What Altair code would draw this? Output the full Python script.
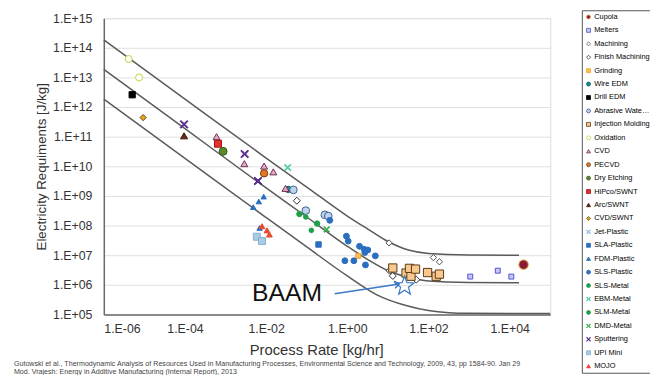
import math
import altair as alt
import pandas as pd

FONT = "Liberation Sans"

series_names = ["Cupola", "Melters", "Machining", "Finish Machining", "Grinding", "Wire EDM",
                "Drill EDM", "Abrasive Waterjet", "Injection Molding", "Oxidation", "CVD", "PECVD",
                "Dry Etching", "HiPco/SWNT", "Arc/SWNT", "CVD/SWNT", "Jet-Plastic", "SLA-Plastic",
                "FDM-Plastic", "SLS-Plastic", "SLS-Metal", "EBM-Metal", "SLM-Metal", "DMD-Metal",
                "Sputtering", "UPI Mini", "MOJO"]

# process rate [kg/hr] and electricity [J/kg]
cupola_x = [2.2e4]; cupola_y = [4.8e6]
melters_x = [1.07e3, 5.1e3, 1.1e4]; melters_y = [1.9e6, 3.0e6, 1.9e6]
machining_x = [10.7, 132, 186]; machining_y = [2.6e7, 8.3e6, 6.0e6]
finish_x = [0.057, 11, 13.2, 50]; finish_y = [6.9e8, 3.0e6, 2.0e6, 1.5e6]
grinding_x = [1.86]; grinding_y = [9.5e6]
wire_edm_x = [0.035]; wire_edm_y = [1.66e9]
drill_edm_x = [5.0e-6]; drill_edm_y = [2.6e12]
waterjet_x = [0.047, 0.095, 0.28, 0.34]; waterjet_y = [1.6e9, 3.2e8, 2.3e8, 2.1e8]
injection_x = [13.2, 28, 37, 34, 48, 95, 155, 186]
injection_y = [3.7e6, 2.5e6, 1.95e6, 3.6e6, 3.4e6, 2.6e6, 1.95e6, 2.3e6]
oxidation_x = [4.1e-6, 7.4e-6]; oxidation_y = [4.2e13, 1.0e13]
cvd_x = [6.0e-4, 2.9e-3, 8.9e-3, 0.015, 0.030]; cvd_y = [1.0e11, 1.23e10, 1.02e10, 6.5e9, 1.8e9]
pecvd_x = [8.9e-3]; pecvd_y = [5.8e9]
dry_etch_x = [8.7e-4]; dry_etch_y = [3.2e10]
hipco_x = [6.5e-4]; hipco_y = [5.8e10]
arc_x = [9.5e-5]; arc_y = [1.07e11]
cvd_swnt_x = [9.3e-6]; cvd_swnt_y = [4.4e11]
jet_x = []; jet_y = []
sla_x = [0.195]; sla_y = [2.3e7]
fdm_x = [8.7e-3, 6.6e-3, 4.8e-3, 6.9e-3]; fdm_y = [9.5e8, 6.5e8, 4.2e8, 8.3e7]
sls_p_x = [0.37, 0.95, 1.05, 2.0, 3.2, 2.7, 4.9, 1.45, 0.87, 2.8, 2.6]
sls_p_y = [1.5e8, 4.4e7, 3.0e7, 2.0e7, 1.5e7, 1.23e7, 9.5e6, 6.5e6, 6.5e6, 4.7e6, 1.6e7]
sls_m_x = [0.066, 0.18]; sls_m_y = [2.45e8, 1.17e8]
ebm_x = [0.034]; ebm_y = [9.1e9]
slm_x = [0.095, 0.13]; slm_y = [1.95e8, 6.9e7]
dmd_x = [0.31]; dmd_y = [7.4e7]
sputter_x = [9.5e-5, 2.95e-3, 6.3e-3]; sputter_y = [2.6e11, 2.6e10, 3.2e9]
upi_x = [5.9e-3, 7.9e-3]; upi_y = [4.2e7, 3.0e7]
mojo_x = [7.9e-3, 0.0105, 0.012]; mojo_y = [9.5e7, 6.9e7, 5.0e7]

# boundary curves
upper_x = [1e-6, 1e-4, 1e-2, 0.1, 1, 3.2, 10, 32, 100, 1000, 1.7e4]
upper_y = [1.86e14, 1.86e12, 1.9e10, 2.0e9, 2.1e8, 7.6e7, 2.9e7, 1.5e7, 1.15e7, 1.02e7, 1.0e7]
middle_x = [1e-6, 1e-4, 1e-2, 0.1, 1, 3.2, 10, 32, 100, 1000, 1.7e4]
middle_y = [1.86e13, 1.86e11, 1.86e9, 1.95e8, 2.0e7, 7.1e6, 3.0e6, 1.8e6, 1.35e6, 1.2e6, 1.17e6]
lower_x = [1e-6, 1e-4, 1e-2, 0.1, 1, 5.2, 28, 100, 316, 1000, 1e5]
lower_y = [1.86e12, 1.86e10, 1.86e8, 1.9e7, 2.0e6, 4.7e5, 2.0e5, 1.35e5, 1.15e5, 1.1e5, 1.07e5]

baam_x = [25.7]; baam_y = [9.1e5]
baam_label = ["BAAM"]; baam_label_x = [4.5e-3]; baam_label_y = [2.95e5]
arrow_x = [0.49]; arrow_y = [5.0e5]; arrow_x2 = [19]; arrow_y2 = [1.07e6]

x_ticks = [1e-6, 1e-4, 1e-2, 1, 1e2, 1e4]
y_ticks = [1e5, 1e6, 1e7, 1e8, 1e9, 1e10, 1e11, 1e12, 1e13, 1e14, 1e15]

footer = ["Gutowski et al., Thermodynamic Analysis of Resources Used in Manufacturing Processes, Environmental Science and Technology, 2009, 43, pp 1584-90. Jan 29",
          "Mod. Vrajesh: Energy in Additive Manufacturing (Internal Report), 2013"]

XPATH = "M-0.85,-1L0,-0.25L0.85,-1L1,-0.8L0.25,0L1,0.8L0.85,1L0,0.25L-0.85,1L-1,0.8L-0.25,0L-1,-0.8Z"
star_pts = []
for i in range(10):
    r = 1.0 if i % 2 == 0 else 0.42
    a = -math.pi / 2 + i * math.pi / 5
    star_pts.append(f"{r*math.cos(a):.3f},{r*math.sin(a):.3f}")
STAR = "M" + "L".join(star_pts) + "Z"

style = {
    "Cupola": ("circle", "#8b1a3a", "#e0a030", 90),
    "Melters": ("square", "#c8c8f4", "#5050d0", 25),
    "Machining": ("diamond", "#ffffff", "#505050", 40),
    "Finish Machining": ("diamond", "#ffffff", "#303030", 50),
    "Grinding": ("square", "#f8c060", "#f0a020", 25),
    "Wire EDM": ("circle", "#138d90", "#0a5a5a", 40),
    "Drill EDM": ("square", "#000000", "#000000", 40),
    "Abrasive Waterjet": ("circle", "#bcd4ee", "#3f5f8f", 60),
    "Injection Molding": ("square", "#f8c890", "#5a3a10", 70),
    "Oxidation": ("circle", "#ffffff", "#b8d840", 50),
    "CVD": ("triangle-up", "#e8a8c8", "#6a3050", 50),
    "PECVD": ("circle", "#e07828", "#7a3a08", 55),
    "Dry Etching": ("circle", "#5a8a2a", "#3a5a1a", 65),
    "HiPco/SWNT": ("square", "#e83030", "#a01010", 50),
    "Arc/SWNT": ("triangle-up", "#6a2818", "#3a1008", 50),
    "CVD/SWNT": ("diamond", "#e8a020", "#6a5010", 40),
    "Jet-Plastic": (XPATH, "#90b8e0", "#90b8e0", 30),
    "SLA-Plastic": ("square", "#2a6ebf", "#2a6ebf", 30),
    "FDM-Plastic": ("triangle-up", "#2a6ebf", "#2a6ebf", 30),
    "SLS-Plastic": ("circle", "#2a6ebf", "#2a6ebf", 35),
    "SLS-Metal": ("circle", "#1ea048", "#1ea048", 30),
    "EBM-Metal": (XPATH, "#50d098", "#50d098", 45),
    "SLM-Metal": ("circle", "#1ea048", "#1ea048", 22),
    "DMD-Metal": (XPATH, "#30b040", "#30b040", 35),
    "Sputtering": (XPATH, "#6a38a8", "#4a2080", 60),
    "UPI Mini": ("square", "#a8cce4", "#88b0d0", 50),
    "MOJO": ("triangle-up", "#e84a30", "#e84a30", 35),
}

series_data = [
    ("Cupola", cupola_x, cupola_y), ("Melters", melters_x, melters_y),
    ("Machining", machining_x, machining_y), ("Finish Machining", finish_x, finish_y),
    ("Grinding", grinding_x, grinding_y), ("Wire EDM", wire_edm_x, wire_edm_y),
    ("Drill EDM", drill_edm_x, drill_edm_y), ("Abrasive Waterjet", waterjet_x, waterjet_y),
    ("Injection Molding", injection_x, injection_y), ("Oxidation", oxidation_x, oxidation_y),
    ("CVD", cvd_x, cvd_y), ("PECVD", pecvd_x, pecvd_y), ("Dry Etching", dry_etch_x, dry_etch_y),
    ("HiPco/SWNT", hipco_x, hipco_y), ("Arc/SWNT", arc_x, arc_y), ("CVD/SWNT", cvd_swnt_x, cvd_swnt_y),
    ("Jet-Plastic", jet_x, jet_y), ("SLA-Plastic", sla_x, sla_y), ("FDM-Plastic", fdm_x, fdm_y),
    ("SLS-Plastic", sls_p_x, sls_p_y), ("SLS-Metal", sls_m_x, sls_m_y), ("EBM-Metal", ebm_x, ebm_y),
    ("SLM-Metal", slm_x, slm_y), ("DMD-Metal", dmd_x, dmd_y), ("Sputtering", sputter_x, sputter_y),
    ("UPI Mini", upi_x, upi_y), ("MOJO", mojo_x, mojo_y),
]

rows = []
for name, xs, ys in series_data:
    for xv, yv in zip(xs, ys):
        rows.append({"series": name, "rate": xv, "energy": yv, "sz": style[name][3]})
pts = pd.DataFrame(rows)

curve_rows = []
for cname, xs, ys in [("upper", upper_x, upper_y), ("middle", middle_x, middle_y), ("lower", lower_x, lower_y)]:
    for i, (xv, yv) in enumerate(zip(xs, ys)):
        curve_rows.append({"curve": cname, "order": i, "rate": xv, "energy": yv})
curves = pd.DataFrame(curve_rows)

label_expr = ("'1.E' + (round(log(datum.value)/LN10) < 0 ? '-' : '+') + "
              "(abs(round(log(datum.value)/LN10)) < 10 ? '0' : '') + abs(round(log(datum.value)/LN10))")

xs_scale = alt.Scale(type="log", domain=[1e-6, 1e5], nice=False)
ys_scale = alt.Scale(type="log", domain=[1e5, 1e15], nice=False)

x_enc = alt.X("rate:Q", scale=xs_scale, title="Process Rate [kg/hr]",
              axis=alt.Axis(values=x_ticks, labelExpr=label_expr, grid=False, ticks=False,
                            domainColor="#6a6a6a", domainWidth=1.5, labelFontSize=12.5,
                            labelColor="#333333", labelPadding=8, titleFontSize=15,
                            titleFontWeight="normal", titleColor="#333333", titlePadding=8,
                            titleX=215, labelFont=FONT, titleFont=FONT))
y_enc = alt.Y("energy:Q", scale=ys_scale, title="Electricity Requiments [J/kg]",
              axis=alt.Axis(values=y_ticks, labelExpr=label_expr, grid=True, gridColor="#e0e0e0",
                            ticks=False, domainColor="#6a6a6a", domainWidth=1.5, labelFontSize=12.5,
                            labelColor="#333333", labelPadding=12, titleFontSize=13.5,
                            titleFontWeight="normal", titleColor="#333333", titlePadding=4,
                            labelFont=FONT, titleFont=FONT))

lines = alt.Chart(curves).mark_line(color="#5a5a5a", strokeWidth=1.5, interpolate="monotone").encode(
    x=x_enc, y=y_enc, detail="curve:N", order="order:Q")

shapes = [style[n][0] for n in series_names]
fills = [style[n][1] for n in series_names]
strokes = [style[n][2] for n in series_names]

leg = alt.Legend(title=None, symbolSize=16, symbolStrokeWidth=0.8, labelFontSize=7.5,
                 labelLimit=58, rowPadding=4.6, labelOffset=2, symbolOffset=0,
                 orient="none", legendX=484, legendY=-8, strokeColor="#555555",
                 fillColor="white", padding=3)

points = alt.Chart(pts).mark_point(opacity=1, strokeWidth=1, filled=True).encode(
    x=x_enc, y=y_enc,
    fill=alt.Fill("series:N", scale=alt.Scale(domain=series_names, range=fills), legend=leg),
    stroke=alt.Stroke("series:N", scale=alt.Scale(domain=series_names, range=strokes), legend=leg),
    shape=alt.Shape("series:N", scale=alt.Scale(domain=series_names, range=shapes), legend=leg),
    size=alt.Size("sz:Q", scale=None),
)

star = alt.Chart(pd.DataFrame({"rate": baam_x, "energy": baam_y})).mark_point(
    shape=STAR, size=400, filled=False, stroke="#3a78c8", strokeWidth=1.2, opacity=1).encode(x=x_enc, y=y_enc)

arrow_df = pd.DataFrame({"rate": arrow_x, "energy": arrow_y, "rate2": arrow_x2, "energy2": arrow_y2})
arrow = alt.Chart(arrow_df).mark_rule(color="#3a78c8", strokeWidth=1.5).encode(
    x=x_enc, y=y_enc, x2="rate2:Q", y2="energy2:Q")
head = alt.Chart(pd.DataFrame({"rate": arrow_x2, "energy": arrow_y2})).mark_point(
    shape="M-1,-0.75L0,0L-1,0.75", size=90, filled=False, stroke="#3a78c8", strokeWidth=1.5,
    angle=351, opacity=1).encode(x=x_enc, y=y_enc)

text = alt.Chart(pd.DataFrame({"rate": baam_label_x, "energy": baam_label_y, "t": baam_label})).mark_text(
    align="left", baseline="alphabetic", fontSize=25, font=FONT, color="#111111").encode(
    x=x_enc, y=y_enc, text="t:N")

foot1 = alt.Chart(pd.DataFrame({"t": [footer[0]]})).mark_text(
    align="left", baseline="middle", fontSize=7.2, font=FONT, color="#444444").encode(
    x=alt.value(-91), y=alt.value(350), text="t:N")
foot2 = alt.Chart(pd.DataFrame({"t": [footer[1]]})).mark_text(
    align="left", baseline="middle", fontSize=7.2, font=FONT, color="#444444").encode(
    x=alt.value(-91), y=alt.value(358.5), text="t:N")

chart = alt.layer(lines, points, arrow, head, star, text, foot1, foot2).properties(
    width=452, height=300,
    autosize=alt.AutoSizeParams(type="none"),
    padding={"left": 97, "top": 8, "right": 101, "bottom": 59},
).configure_view(stroke=None).configure_legend(
    labelFont=FONT, labelColor="#222244", cornerRadius=0,
).configure(font=FONT)

chart.save("out.html", embed_options={"renderer": "svg", "actions": False})
